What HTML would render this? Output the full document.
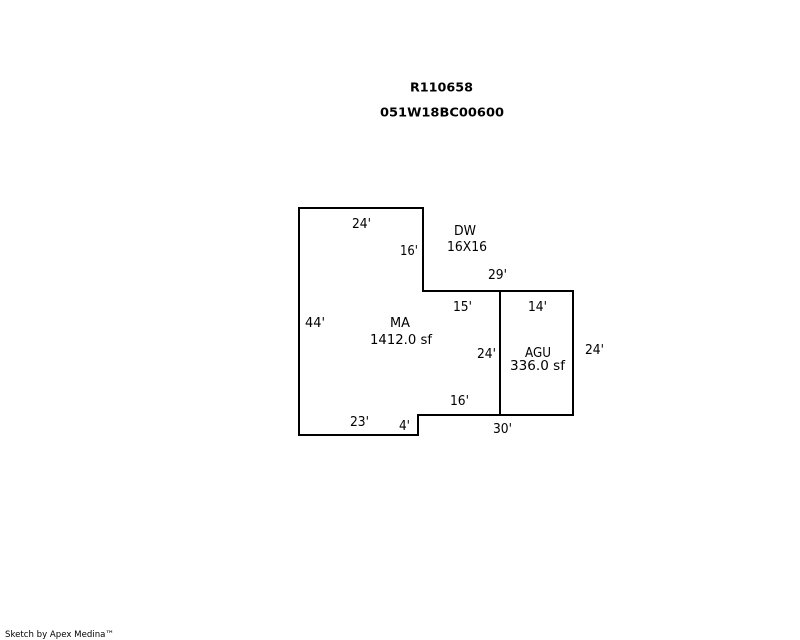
<!DOCTYPE html>
<html>
<head>
<meta charset="utf-8">
<style>
html,body{margin:0;padding:0;background:#fff;width:800px;height:640px;overflow:hidden}
svg{display:block}
text{font-family:"DejaVu Sans","Liberation Sans",sans-serif;font-size:13px;fill:#000}
.b{font-weight:bold;font-size:12px}
.s{font-size:9px}
</style>
</head>
<body>
<svg width="800" height="640" viewBox="0 0 800 640" xmlns="http://www.w3.org/2000/svg">
<g fill="none" stroke="#000" stroke-width="2" shape-rendering="crispEdges">
<path d="M299 208H423V291H573V415H418V435H299Z"/>
<path d="M500 291V415"/>
</g>
<text class="b" x="410" y="91.5" textLength="63" lengthAdjust="spacingAndGlyphs">R110658</text>
<text class="b" x="380" y="116.5" textLength="124" lengthAdjust="spacingAndGlyphs">051W18BC00600</text>
<text x="352" y="228" textLength="19" lengthAdjust="spacingAndGlyphs">24'</text>
<text x="400" y="255" textLength="18" lengthAdjust="spacingAndGlyphs">16'</text>
<text x="454" y="235" textLength="22" lengthAdjust="spacingAndGlyphs">DW</text>
<text x="447" y="251" textLength="40" lengthAdjust="spacingAndGlyphs">16X16</text>
<text x="488" y="279" textLength="19" lengthAdjust="spacingAndGlyphs">29'</text>
<text x="453" y="311" textLength="19" lengthAdjust="spacingAndGlyphs">15'</text>
<text x="528" y="311" textLength="19" lengthAdjust="spacingAndGlyphs">14'</text>
<text x="305" y="327" textLength="20" lengthAdjust="spacingAndGlyphs">44'</text>
<text x="390" y="327" textLength="20" lengthAdjust="spacingAndGlyphs">MA</text>
<text x="370" y="344" textLength="62" lengthAdjust="spacingAndGlyphs">1412.0 sf</text>
<text x="477" y="358" textLength="19" lengthAdjust="spacingAndGlyphs">24'</text>
<text x="525" y="357" textLength="26" lengthAdjust="spacingAndGlyphs">AGU</text>
<text x="510" y="370" textLength="55" lengthAdjust="spacingAndGlyphs">336.0 sf</text>
<text x="585" y="354" textLength="19" lengthAdjust="spacingAndGlyphs">24'</text>
<text x="450" y="405" textLength="19" lengthAdjust="spacingAndGlyphs">16'</text>
<text x="350" y="426" textLength="19" lengthAdjust="spacingAndGlyphs">23'</text>
<text x="399" y="430" textLength="11" lengthAdjust="spacingAndGlyphs">4'</text>
<text x="493" y="433" textLength="19" lengthAdjust="spacingAndGlyphs">30'</text>
<text class="s" x="5" y="637" textLength="109" lengthAdjust="spacingAndGlyphs">Sketch by Apex Medina™</text>
</svg>
</body>
</html>
